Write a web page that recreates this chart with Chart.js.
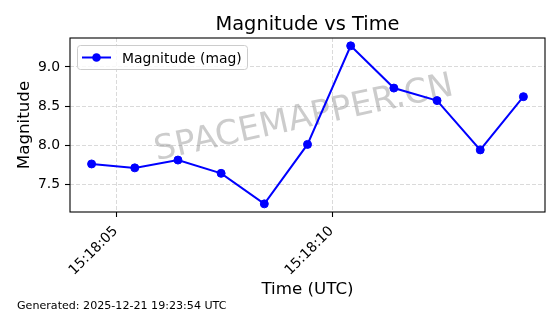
<!DOCTYPE html>
<html>
<head>
<meta charset="utf-8">
<script src="https://cdn.jsdelivr.net/npm/chart.js@4"></script>
<style>
  html, body { margin: 0; padding: 0; background: #fff; }
  canvas { display: block; }
</style>
</head>
<body>
<canvas id="grafikon" width="560" height="314"></canvas>
<script>
// mérési időpontok (UTC) és magnitúdók
const idopontok = ["15:18:04.42", "15:18:05.42", "15:18:06.42", "15:18:07.42", "15:18:08.42", "15:18:09.42",
                   "15:18:10.42", "15:18:11.42", "15:18:12.42", "15:18:13.42", "15:18:14.42"];
const magnitudok = [7.76, 7.71, 7.81, 7.64, 7.25, 8.01, 9.27, 8.73, 8.57, 7.94, 8.62];
const xTickCimkek = ["15:18:05", "15:18:10"];
const yTickek = [7.5, 8.0, 8.5, 9.0];

const betu = "'DejaVu Sans', sans-serif";
const kek = "#0000ff";

// "hh:mm:ss.s" -> másodperc 15:18:00-tól
function masodperc(t) {
  const [h, m, s] = t.split(":").map(Number);
  return (h - 15) * 3600 + (m - 18) * 60 + s;
}
const pontok = idopontok.map((t, i) => ({ x: masodperc(t), y: magnitudok[i] }));
const xTickErtekek = xTickCimkek.map(masodperc);

// szövegek, keret, vízjel, jelmagyarázat
const rajzoloPlugin = {
  id: "rajzolo",
  beforeDatasetsDraw(chart) {
    const ctx = chart.ctx;
    ctx.save();
    ctx.translate(305.8, 127.5);
    ctx.rotate(-12.4 * Math.PI / 180);
    ctx.font = "34px " + betu;
    ctx.fillStyle = "rgba(128,128,128,0.4)";
    ctx.textAlign = "center";
    ctx.textBaseline = "alphabetic";
    ctx.fillText("SPACEMAPPER.CN", 0, 0);
    ctx.restore();
  },
  afterDraw(chart) {
    const ctx = chart.ctx;
    const a = chart.chartArea;
    ctx.save();
    // keret
    ctx.strokeStyle = "#000";
    ctx.lineWidth = 1.1;
    ctx.strokeRect(a.left, a.top, a.right - a.left, a.bottom - a.top);
    // cím
    ctx.fillStyle = "#000";
    ctx.font = "19.4px " + betu;
    ctx.textAlign = "center";
    ctx.textBaseline = "alphabetic";
    ctx.fillText("Magnitude vs Time", (a.left + a.right) / 2, 30);
    // lábjegyzet
    ctx.font = "11.1px " + betu;
    ctx.textAlign = "left";
    ctx.fillText("Generated: 2025-12-21 19:23:54 UTC", 17, 309);
    // jelmagyarázat
    ctx.beginPath();
    ctx.roundRect(77.5, 45.5, 170, 24, 3);
    ctx.fillStyle = "rgba(255,255,255,0.8)";
    ctx.fill();
    ctx.strokeStyle = "#cccccc";
    ctx.lineWidth = 1;
    ctx.stroke();
    ctx.strokeStyle = kek;
    ctx.lineWidth = 2;
    ctx.beginPath();
    ctx.moveTo(82, 57.5);
    ctx.lineTo(111, 57.5);
    ctx.stroke();
    ctx.fillStyle = kek;
    ctx.beginPath();
    ctx.arc(96.5, 57.5, 4.3, 0, Math.PI * 2);
    ctx.fill();
    ctx.fillStyle = "#000";
    ctx.font = "13.9px " + betu;
    ctx.fillText(chart.data.datasets[0].label, 122, 62.5);
    ctx.restore();
  }
};

const racs = {
  color: "rgba(176,176,176,0.6)",
  lineWidth: 0.8,
  drawTicks: true,
  tickLength: 5,
  tickColor: "#000",
  tickWidth: 1.1,
  tickBorderDash: []
};
const szegely = { display: false, dash: [4, 2] };

new Chart(document.getElementById("grafikon").getContext("2d"), {
  type: "line",
  data: {
    datasets: [{
      label: "Magnitude (mag)",
      data: pontok,
      borderColor: kek,
      backgroundColor: kek,
      borderWidth: 2,
      pointRadius: 4,
      pointBorderWidth: 1,
      pointBackgroundColor: kek,
      pointBorderColor: kek,
      tension: 0
    }]
  },
  options: {
    responsive: false,
    animation: false,
    devicePixelRatio: 1,
    layout: { padding: { top: 38, right: 15, left: 0, bottom: 0 } },
    plugins: {
      legend: { display: false },
      tooltip: { enabled: false },
      title: { display: false }
    },
    scales: {
      x: {
        type: "linear",
        min: 3.92,
        max: 14.92,
        afterFit(s) { s.height = 102; },
        afterBuildTicks(s) { s.ticks = xTickErtekek.map(v => ({ value: v })); },
        grid: racs,
        border: szegely,
        ticks: {
          minRotation: 45,
          maxRotation: 45,
          padding: 6,
          labelOffset: -1,
          color: "#000",
          font: { family: betu, size: 13.9 },
          callback: (v) => xTickCimkek[xTickErtekek.indexOf(v)]
        },
        title: {
          display: true,
          text: "Time (UTC)",
          color: "#000",
          font: { family: betu, size: 16.7, lineHeight: 1.2 },
          padding: { top: 0, bottom: 14 }
        }
      },
      y: {
        min: 7.146,
        max: 9.37,
        afterFit(s) { s.width = 70; },
        afterBuildTicks(s) { s.ticks = yTickek.map(v => ({ value: v })); },
        grid: racs,
        border: szegely,
        ticks: {
          padding: 5,
          color: "#000",
          font: { family: betu, size: 13.9 },
          callback: (v) => v.toFixed(1)
        },
        title: {
          display: true,
          text: "Magnitude",
          color: "#000",
          font: { family: betu, size: 16.7, lineHeight: 1.2 },
          padding: { top: 14.5, bottom: 0 }
        }
      }
    }
  },
  plugins: [rajzoloPlugin]
});
</script>
</body>
</html>
